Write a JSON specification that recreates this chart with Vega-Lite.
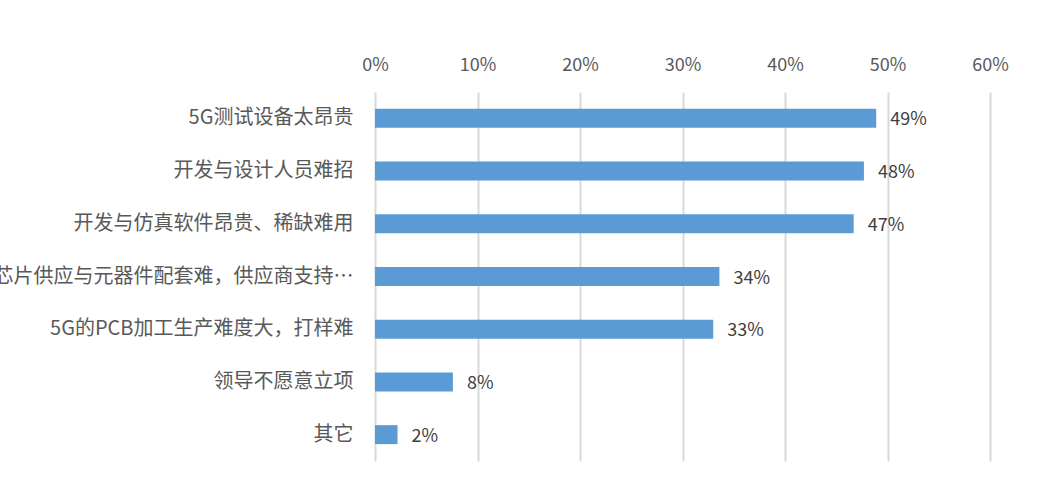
{
  "$schema": "https://vega.github.io/schema/vega-lite/v6.json",
  "width": 615,
  "height": 369,
  "autosize": "none",
  "padding": {"left": 375, "top": 92, "right": 58, "bottom": 39},
  "background": "#FFFFFF",
  "data": {
    "values": [
      {"item": "5G测试设备太昂贵", "share": 0.489},
      {"item": "开发与设计人员难招", "share": 0.477},
      {"item": "开发与仿真软件昂贵、稀缺难用", "share": 0.467},
      {"item": "芯片供应与元器件配套难，供应商支持…", "share": 0.336},
      {"item": "5G的PCB加工生产难度大，打样难", "share": 0.33},
      {"item": "领导不愿意立项", "share": 0.076},
      {"item": "其它", "share": 0.022}
    ]
  },
  "encoding": {
    "y": {
      "field": "item",
      "type": "nominal",
      "sort": null,
      "title": null,
      "scale": {"paddingInner": 0.64, "paddingOuter": 0.32},
      "axis": {
        "domain": false,
        "ticks": false,
        "grid": false,
        "labelPadding": 22,
        "labelFontSize": 20,
        "labelColor": "#595959",
        "labelFont": "Noto Sans CJK SC",
        "labelLimit": 0
      }
    },
    "x": {
      "field": "share",
      "type": "quantitative",
      "title": null,
      "scale": {"domain": [0, 0.6], "nice": false},
      "axis": {
        "orient": "top",
        "format": ".0%",
        "values": [0, 0.1, 0.2, 0.3, 0.4, 0.5, 0.6],
        "domain": false,
        "ticks": false,
        "labelFlush": false,
        "labelPadding": 18,
        "labelFontSize": 18,
        "labelColor": "#595959",
        "labelFont": "Noto Sans CJK SC",
        "gridColor": "#D9D9D9",
        "gridWidth": 2
      }
    }
  },
  "layer": [
    {
      "mark": {"type": "bar", "color": "#5B9BD5"}
    },
    {
      "mark": {
        "type": "text",
        "align": "left",
        "baseline": "middle",
        "dx": 14,
        "dy": 2,
        "fontSize": 18,
        "font": "Noto Sans CJK SC",
        "color": "#404040"
      },
      "encoding": {
        "text": {"field": "share", "type": "quantitative", "format": ".0%"}
      }
    }
  ],
  "config": {
    "view": {"stroke": null}
  }
}
